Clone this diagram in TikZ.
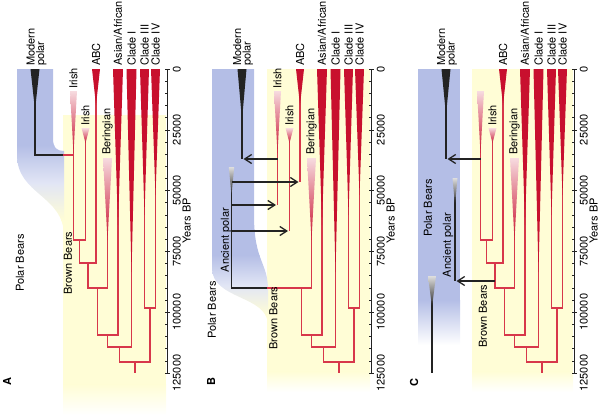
\documentclass[tikz,border=0pt]{standalone}
\usepackage{fontspec}
\setmainfont{TeX Gyre Heros}
\usetikzlibrary{arrows.meta}

\definecolor{polarblue}{RGB}{180,190,230}
\definecolor{brownyellow}{RGB}{255,253,214}
\definecolor{bearred}{RGB}{200,16,46}
\definecolor{treered}{RGB}{215,55,75}
\definecolor{polarblack}{RGB}{35,35,35}

\tikzset{
  treeline/.style={treered, line width=1.1pt},
  polarline/.style={polarblack, line width=1.1pt},
  geneflow/.style={polarblack, line width=1.3pt, -{Straight Barb[length=7pt,width=9pt]}},
  cladelabel/.style={rotate=90, anchor=west, inner sep=0pt, font=\fontsize{11}{9.5}\selectfont},
  grouplabel/.style={rotate=90, inner sep=0pt, font=\fontsize{11}{12}\selectfont},
  ticklabel/.style={rotate=90, anchor=north, inner sep=0pt, font=\fontsize{11}{12}\selectfont},
  panellabel/.style={rotate=90, inner sep=0pt, font=\fontsize{11}{12}\selectfont\bfseries},
  axisline/.style={polarblack, line width=0.6pt},
  blueshade/.style={top color=polarblue, bottom color=brownyellow, middle color=polarblue!40!white}
}

% wedge: x, top, tip, half width, colour
\newcommand{\solidwedge}[5]{\fill[#5] ({#1-#4},#2) -- ({#1+#4},#2) -- (#1,#3) -- cycle;}
\newcommand{\fadewedge}[5]{\shade[top color=#5!15, bottom color=#5] ({#1-#4},#2) -- ({#1+#4},#2) -- (#1,#3) -- cycle;}

% the part of the brown bear tree and the time axis that every panel shares
\newcommand{\browntree}{%
  \draw[treeline] (107.5,158) -- (107.5,288);
  \draw[treeline] (97.5,288) -- (97.5,335) -- (118,335) -- (118,69);
  \draw[treeline] (107.5,335) -- (107.5,347) -- (131.5,347) -- (131.5,69);
  \draw[treeline] (144.5,69) -- (144.5,308) -- (155.5,308) -- (155.5,69);
  \draw[treeline] (119.5,347) -- (119.5,362) -- (150,362) -- (150,308);
  \draw[treeline] (135,362) -- (135,373);
  \fadewedge{73.5}{91}{153}{3.5}{bearred}
  \fadewedge{85.5}{128}{143}{4}{bearred}
  \solidwedge{96}{69}{105}{4}{bearred}
  \fadewedge{107.5}{158}{240}{4.5}{bearred}
  \solidwedge{118}{69}{225}{5}{bearred}
  \solidwedge{131.5}{69}{272}{5}{bearred}
  \solidwedge{144.5}{69}{215}{4.5}{bearred}
  \solidwedge{155.5}{69}{195}{4.5}{bearred}
  \node[cladelabel] at (85.5,126) {Irish};
  \node[cladelabel] at (96,66) {ABC};
  \node[cladelabel] at (107.5,155) {Beringian};
  \node[cladelabel] at (118,66) {Asian/African};
  \node[cladelabel] at (131.5,66) {Clade I};
  \node[cladelabel] at (144.5,66) {Clade III};
  \node[cladelabel] at (155.5,66) {Clade IV};
  % years axis
  \draw[axisline] (167,69) -- (167,373);
  \foreach \m in {0,...,25}
    \draw[axisline] (167,{69+\m*12.16}) -- (165,{69+\m*12.16});
  \foreach \k/\lab in {0/0,1/25000,2/50000,3/75000,4/100000,5/125000} {
    \draw[axisline] (167,{69+\k*60.8}) -- (170,{69+\k*60.8});
    \node[ticklabel] at (172.5,{69+\k*60.8}) {\lab};
  }
  \node[ticklabel] at (182.5,221) {Years BP};
}

\begin{document}
\begin{tikzpicture}[x=1pt, y=-1pt]
\useasboundingbox (0,0) rectangle (600,415);

%% A
\begin{scope}
\fill[brownyellow] (63,115) rectangle (166,385);
\shade[top color=brownyellow, bottom color=white] (63,384.5) rectangle (166,415);
\begin{scope}
\clip (17,69) -- (53,69) -- (53,138) .. controls (53,148) and (57,151) .. (64,151)
  -- (64,236) .. controls (64,195) and (17,195) .. (17,155) -- cycle;
\fill[polarblue] (10,60) rectangle (70,145.5);
\shade[blueshade] (10,145) rectangle (70,220);
\fill[brownyellow] (10,219.5) rectangle (70,240);
\end{scope}

\draw[polarline] (35,69) -- (35,155) -- (63,155);
\draw[treeline] (63,155) -- (73.5,155);
\solidwedge{35}{69}{110}{4.5}{polarblack}
\draw[treeline] (73.5,91) -- (73.5,240) -- (85.5,240) -- (85.5,128);
\draw[treeline] (79.5,240) -- (79.5,263) -- (96,263) -- (96,69);
\draw[treeline] (88,263) -- (88,288) -- (107.5,288);
\browntree

\node[cladelabel, align=left] at (36.5,66) {Modern\\polar};
\node[cladelabel] at (73.5,89) {Irish};
\node[grouplabel] at (20,263) {Polar Bears};
\node[grouplabel] at (68,263) {Brown Bears};
\node[panellabel] at (7,382) {A};
\end{scope}

%% B
\begin{scope}[xshift=204pt]
\fill[brownyellow] (63,69) rectangle (166,372);
\shade[top color=brownyellow, bottom color=white] (63,371.5) rectangle (166,392);
\begin{scope}
\clip (8,69) -- (50,69) -- (50,215) .. controls (50,262) and (64,262) .. (64,290)
  -- (64,325) .. controls (64,295) and (8,300) .. (8,268) -- cycle;
\fill[polarblue] (0,60) rectangle (70,255.5);
\shade[blueshade] (0,255) rectangle (70,315);
\fill[brownyellow] (0,314.5) rectangle (70,330);
\end{scope}

\draw[polarline] (38,69) -- (38,159);
\solidwedge{38}{69}{120}{4.5}{polarblack}
\draw[treeline] (73.5,91) -- (73.5,205);
\draw[treeline] (85.5,128) -- (85.5,231);
\draw[treeline] (96,69) -- (96,182);
\draw[polarline] (27.5,167) -- (27.5,288) -- (63,288);
\draw[treeline] (63,288) -- (107.5,288);
\fadewedge{27.5}{167}{195}{2.7}{polarblack}
\browntree

\draw[geneflow] (73.5,159) -- (39.5,159);
\draw[geneflow] (27.5,182) -- (94.5,182);
\draw[geneflow] (27.5,205) -- (72,205);
\draw[geneflow] (27.5,231) -- (84,231);

\node[cladelabel, align=left] at (39,66) {Modern\\polar};
\node[cladelabel] at (73.5,89) {Irish};
\node[grouplabel] at (8,310) {Polar Bears};
\node[grouplabel] at (22,240) {Ancient polar};
\node[grouplabel] at (69.5,318) {Brown Bears};
\node[panellabel] at (7,382) {B};
\end{scope}

%% C
\begin{scope}[xshift=407pt]
\fill[brownyellow] (65,69) rectangle (166,372);
\shade[top color=brownyellow, bottom color=white] (65,371.5) rectangle (166,392);
\fill[polarblue] (11,69) rectangle (53,300.5);
\shade[top color=polarblue, bottom color=white] (11,300) rectangle (53,345);

\draw[polarline] (39,69) -- (39,159);
\solidwedge{39}{69}{115}{4.5}{polarblack}
\draw[polarline] (48,178) -- (48,281);
\fadewedge{48}{178}{205}{2.5}{polarblack}
\draw[polarline] (25,276) -- (25,373);
\fadewedge{25}{276}{307}{4}{polarblack}
\draw[treeline] (73.5,91) -- (73.5,240) -- (85.5,240) -- (85.5,128);
\draw[treeline] (79.5,240) -- (79.5,263) -- (96,263) -- (96,69);
\draw[treeline] (88,263) -- (88,288) -- (107.5,288);
\browntree

\draw[geneflow] (73.5,159) -- (40.5,159);
\draw[geneflow] (88,281) -- (49.5,281);

\node[cladelabel, align=left] at (40,66) {Modern\\polar};
\node[grouplabel] at (21,208) {Polar Bears};
\node[grouplabel] at (41,245) {Ancient polar};
\node[grouplabel] at (76,316) {Brown Bears};
\node[panellabel] at (7,383) {C};
\end{scope}
\end{tikzpicture}
\end{document}
